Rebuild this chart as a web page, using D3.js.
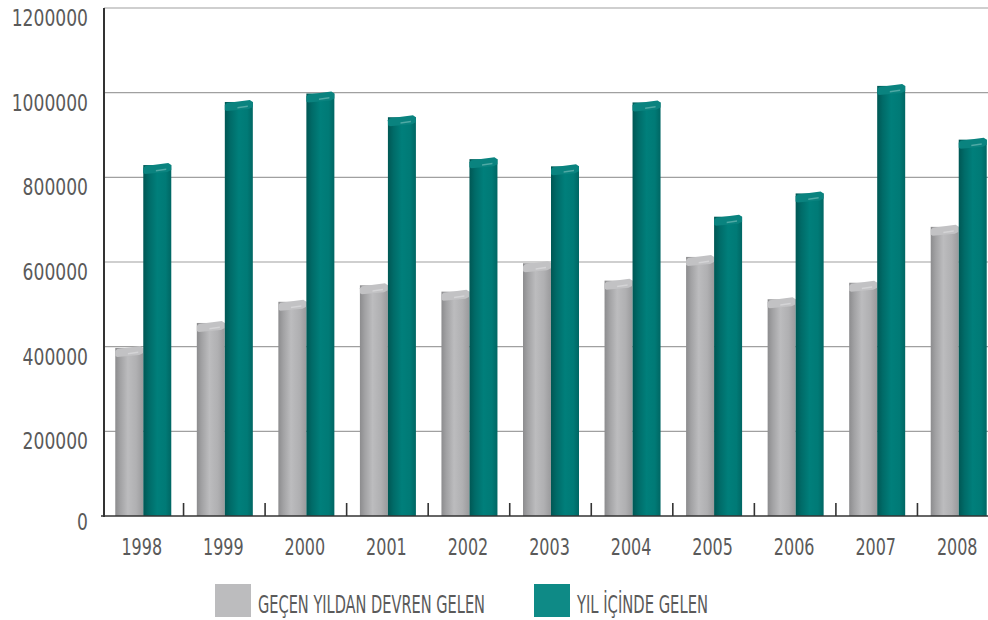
<!DOCTYPE html>
<html><head><meta charset="utf-8">
<script src="https://cdn.jsdelivr.net/npm/d3@7"></script>
<style>
html,body{margin:0;padding:0;background:#fff;}
svg{display:block;}
text{font-family:"DejaVu Sans Condensed","Liberation Sans Narrow","Roboto",sans-serif;fill:#5a5a5a;}
</style></head>
<body>
<svg id="chart" width="988" height="620"></svg>
<script>
const years = ["1998","1999","2000","2001","2002","2003","2004","2005","2006","2007","2008"];
const devrenGelen = [397000,456000,506000,545000,530000,597000,556000,612000,512000,551000,683000];
const yilIcindeGelen = [829000,978000,998000,942000,843000,826000,977000,707000,762000,1016000,889000];
const seriesNames = ["GEÇEN YILDAN DEVREN GELEN","YIL İÇİNDE GELEN"];
const yTicks = [0,200000,400000,600000,800000,1000000,1200000];

const svg = d3.select("#chart");
const W = 988;
const axisX = 104, y0 = 516, yTop = 8;

const x = d3.scaleBand().domain(years).range([102, 999]).paddingInner(0).paddingOuter(0);
const y = d3.scaleLinear().domain([0,1200000]).range([y0, yTop]);

const defs = svg.append("defs");
function grad(id, stops){
  const g = defs.append("linearGradient").attr("id",id).attr("x1","0").attr("x2","1").attr("y1","0").attr("y2","0");
  stops.forEach(s=>g.append("stop").attr("offset",s[0]).attr("stop-color",s[1]));
}
grad("gGray",[[0,"#8c8c8e"],[0.18,"#a2a2a4"],[0.45,"#bcbcbe"],[0.75,"#b0b0b2"],[1,"#9a9a9c"]]);
grad("gTeal",[[0,"#005754"],[0.2,"#006b68"],[0.5,"#007f7b"],[0.8,"#007a76"],[1,"#006663"]]);

// gridlines
svg.append("g").selectAll("line").data(yTicks.filter(d=>d>0)).join("line")
  .attr("x1",axisX).attr("x2",W).attr("y1",d=>y(d)).attr("y2",d=>y(d))
  .attr("stroke","#a0a0a0").attr("stroke-width",1.2);

// y labels (top aligned to gridline)
svg.append("g").selectAll("text").data(yTicks).join("text")
  .attr("x",88).attr("y",d=>d===0? y(d)-3 : y(d)+1).attr("dy","0.74em")
  .attr("text-anchor","end").attr("font-size",23)
  .attr("textLength",d=>String(d).length*10.9).attr("lengthAdjust","spacingAndGlyphs")
  .text(d=>d);

const barW = 28;
const groups = svg.append("g");
const data = years.map((yr,i)=>({yr, vals:[devrenGelen[i], yilIcindeGelen[i]]}));
const inner = d3.scaleBand().domain([0,1]).range([0, barW*2]);
const fills = ["url(#gGray)","url(#gTeal)"];
const caps = ["#c2c2c4","#0a837f"];
const capHi = ["#d4d4d6","#4fa9a5"];

data.forEach(d=>{
  const cx = x(d.yr) + x.bandwidth()/2;
  const gx = cx - barW + 0.5;
  d.vals.forEach((v,k)=>{
    const bx = gx + inner(k), by = y(v);
    const g = groups.append("g");
    g.append("rect").attr("x",bx).attr("y",by).attr("width",barW).attr("height",y0-by)
      .attr("fill",fills[k]);
    // beveled cap
    g.append("path").attr("d",`M${bx},${by+3} L${bx+2},${by+1} L${bx+barW-3},${by-2} L${bx+barW},${by} L${bx+barW},${by+5} L${bx+barW-4},${by+7} L${bx+2},${by+9} L${bx},${by+8} Z`)
      .attr("fill",caps[k]);
    g.append("path").attr("d",`M${bx+barW*0.45},${by+5} L${bx+barW-5},${by+3.5} L${bx+barW-5},${by+5} L${bx+barW*0.45},${by+6.5} Z`)
      .attr("fill",capHi[k]);
  });
});

// axes
svg.append("line").attr("x1",axisX).attr("x2",axisX).attr("y1",yTop).attr("y2",y0+1)
  .attr("stroke","#333").attr("stroke-width",2);
svg.append("line").attr("x1",axisX-3).attr("x2",W).attr("y1",y0).attr("y2",y0)
  .attr("stroke","#333").attr("stroke-width",1.6);
// inner ticks at band boundaries
svg.append("g").selectAll("line").data(years.slice(1)).join("line")
  .attr("x1",d=>x(d)).attr("x2",d=>x(d)).attr("y1",y0).attr("y2",y0-13)
  .attr("stroke","#333").attr("stroke-width",1.6);

// x labels
svg.append("g").selectAll("text").data(years).join("text")
  .attr("x",d=>x(d)+x.bandwidth()/2-1).attr("y",555)
  .attr("text-anchor","middle").attr("font-size",23)
  .attr("textLength",40.6).attr("lengthAdjust","spacingAndGlyphs")
  .text(d=>d);

// legend
const legend = [
  {name:seriesNames[0], color:"#bcbcbe", x:215, tx:258, w:227},
  {name:seriesNames[1], color:"#0e8a86", x:534, tx:577, w:131}
];
legend.forEach(l=>{
  svg.append("rect").attr("x",l.x).attr("y",584).attr("width",36).attr("height",33).attr("fill",l.color);
  svg.append("text").attr("x",l.tx).attr("y",613).attr("font-size",24)
    .attr("textLength",l.w).attr("lengthAdjust","spacingAndGlyphs").text(l.name);
});
</script>
</body></html>
